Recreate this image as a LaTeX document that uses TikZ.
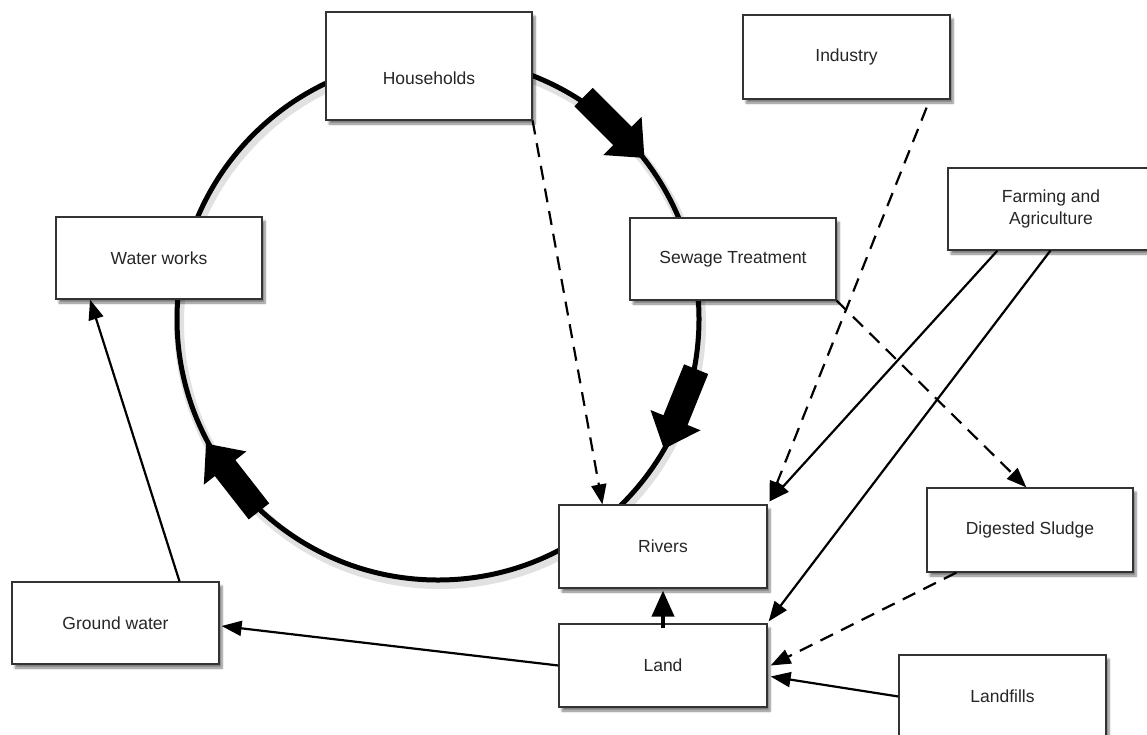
\documentclass[tikz,border=0pt]{standalone}
\usepackage{fontspec}
\setmainfont{Liberation Sans}
\usetikzlibrary{arrows.meta,shadows.blur}

\tikzset{
  stage/.style={draw=black!80,line width=1.2pt,fill=white,inner sep=0pt,
    minimum width=206pt,minimum height=83pt,align=center,text=black!85,
    font=\fontsize{17.5}{22}\selectfont,
    blur shadow={shadow xshift=3pt,shadow yshift=-4pt,shadow blur steps=6,shadow opacity=50}},
  feed/.style={line width=2.2pt,-{Triangle[length=20pt,width=15pt]}},
  seep/.style={feed,dash pattern=on 14pt off 9pt},
  ring/.style={line width=5pt},
  flowarrow/.pic={\fill (-43,-13)--(12,-13)--(12,-27)--(43,0)--(12,27)--(12,13)--(-43,13)--cycle;}
}

\begin{document}
\begin{tikzpicture}[x=1pt,y=-1pt]
  \useasboundingbox (0,0) rectangle (1147,734);
  \coordinate (hub) at (438,319);
  \foreach \o in {0.07,0.05}{
    \draw[line width=10pt,black,opacity=\o] ([shift={(2,4)}]hub) circle[radius=261];
  }
  \draw[ring] (hub) circle[radius=261];
  \foreach \x/\y/\r in {614/127.5/-45,680/409/-112,232.5/477.5/128}{
    \pic[rotate=\r] at (\x,\y) {flowarrow};
  }

  \node[stage,minimum height=108pt,text height=37pt,text depth=0pt] (house) at (429,66) {Households};
  \node[stage,minimum width=207pt,minimum height=84pt] (industry) at (846.5,57) {Industry};
  \node[stage,minimum height=82pt] (farm) at (1051,209) {Farming and\\Agriculture};
  \node[stage,minimum height=82pt] (works) at (159,258) {Water works};
  \node[stage,minimum height=82pt] (sewage) at (733,259) {Sewage Treatment};
  \node[stage,minimum width=208pt] (rivers) at (663,546.5) {Rivers};
  \node[stage,minimum width=208pt] (land) at (663,665.5) {Land};
  \node[stage,minimum height=84pt] (sludge) at (1030,530) {Digested Sludge};
  \node[stage,minimum width=207pt,minimum height=82pt] (ground) at (115.5,623) {Ground water};
  \node[stage,minimum width=207pt] (landfill) at (1002.5,696.5) {Landfills};

  \draw[seep] (house.south east)--([xshift=44pt]rivers.north west);
  \draw[seep] ([xshift=-24pt,yshift=-8pt]industry.south east)--([xshift=2pt,yshift=3pt]rivers.north east);
  \draw[feed] ([xshift=50pt]farm.south west)--([xshift=2pt,yshift=3pt]rivers.north east);
  \draw[feed] ([xshift=103pt]farm.south west)--([xshift=1pt,yshift=2pt]land.north east);
  \draw[seep] (sewage.south east)--([xshift=100pt]sludge.north west);
  \draw[seep] ([xshift=30pt]sludge.south west)--([xshift=3pt]land.east);
  \draw[feed] (landfill.west)--([xshift=3pt,yshift=-11pt]land.east);
  \draw[line width=4pt,-{Triangle[length=26pt,width=22pt]}] ([yshift=-5pt]land.north)--([yshift=-2pt]rivers.south);
  \draw[feed] (land.west)--([xshift=2pt,yshift=-3pt]ground.east);
  \draw[feed] ([xshift=64pt]ground.north)--([xshift=-69pt]works.south);
\end{tikzpicture}
\end{document}
